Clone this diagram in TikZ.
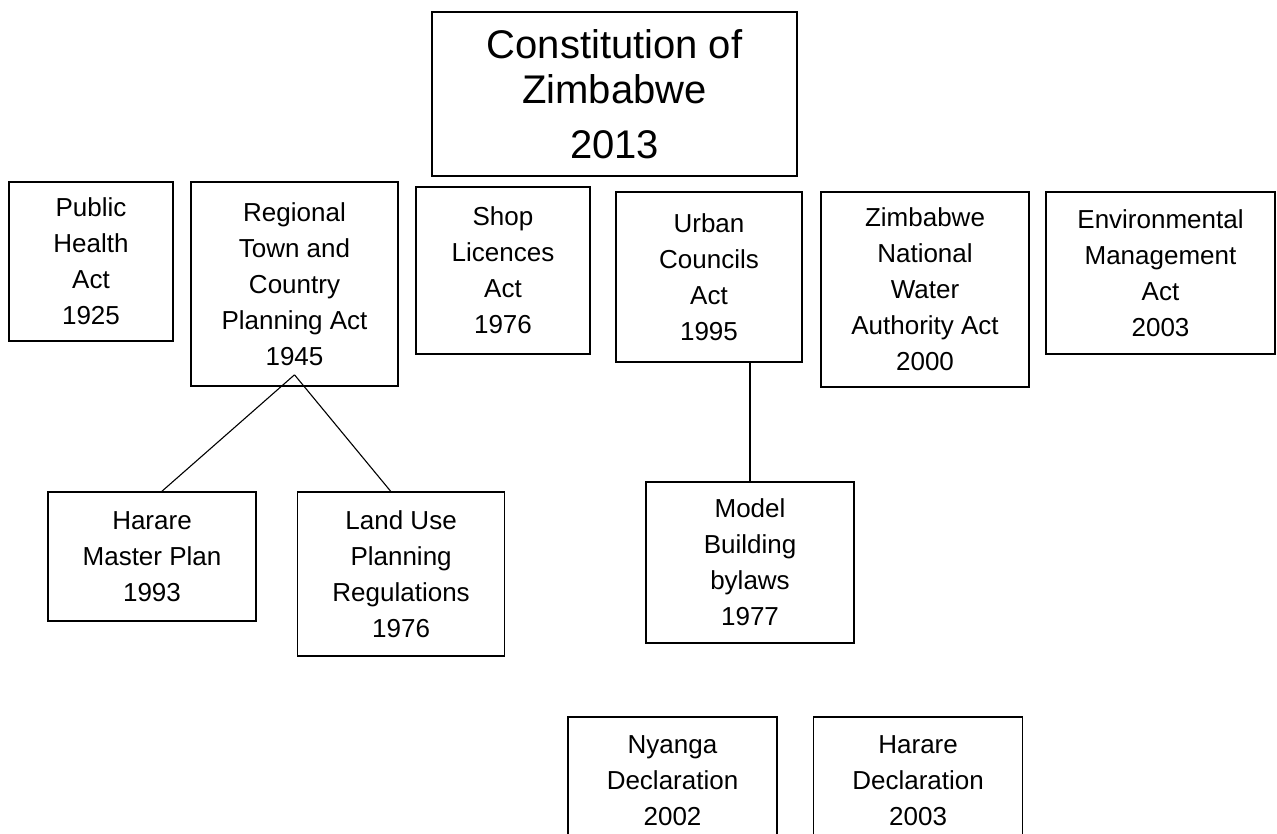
\documentclass[tikz,border=0pt]{standalone}
\usepackage{fontspec}
\setmainfont{Liberation Sans}
\usetikzlibrary{positioning}

\begin{document}
\begin{tikzpicture}[x=1pt, y=-1pt,
    act/.style={draw, line width=1.6pt, align=center, inner sep=0pt,
      font=\fontsize{26}{36}\selectfont},
    boxsize/.style 2 args={minimum width=#1pt, minimum height=#2pt},
    link/.style={line width=1.1pt}]
  \clip (0,0) rectangle (1277,834);
  \fill[white] (0,0) rectangle (1277,834);

  \node[act, boxsize={365}{164}, font=\fontsize{40}{45}\selectfont]
    (const) at (614.5,94) {Constitution of\\Zimbabwe\\[10pt]2013};

  \node[act, boxsize={164}{159}] (pha)  at (91,261.5)   {Public\\Health\\Act\\1925};
  \node[act, boxsize={207}{204}] (rtcp) at (294.5,284)  {Regional\\Town and\\Country\\Planning Act\\1945};
  \node[act, boxsize={174}{167}] (sla)  at (503,270.5)  {Shop\\Licences\\Act\\1976};
  \node[act, boxsize={186}{170}] (uca)  at (709,277)    {Urban\\Councils\\Act\\1995};
  \node[act, boxsize={208}{195}] (znwa) at (925,289.5)  {Zimbabwe\\National\\Water\\Authority Act\\2000};
  \node[act, boxsize={229}{162}] (ema)  at (1160.5,273) {Environmental\\Management\\Act\\2003};

  \node[act, boxsize={208}{129}] (hmp)  at (152,556.5)  {Harare\\Master Plan\\1993};
  \node[act, boxsize={207}{164}] (lupr) [right=40pt of hmp.north east, anchor=north west]
    {Land Use\\Planning\\Regulations\\1976};
  \node[act, boxsize={208}{161}] (mbb)  at (750,562.5)  {Model\\Building\\bylaws\\1977};

  \node[act, boxsize={209}{128}] (nyd)  at (672.5,781)  {Nyanga\\Declaration\\2002};
  \node[act, boxsize={209}{128}] (hd)   [right=35pt of nyd] {Harare\\Declaration\\2003};

  \draw[link] ([yshift=12pt]rtcp.south) -- ([xshift=10pt]hmp.north);
  \draw[link] ([yshift=12pt]rtcp.south) -- ([xshift=-10.5pt]lupr.north);
  \draw[link] (mbb.north) -- (mbb.north |- uca.south);
\end{tikzpicture}
\end{document}
